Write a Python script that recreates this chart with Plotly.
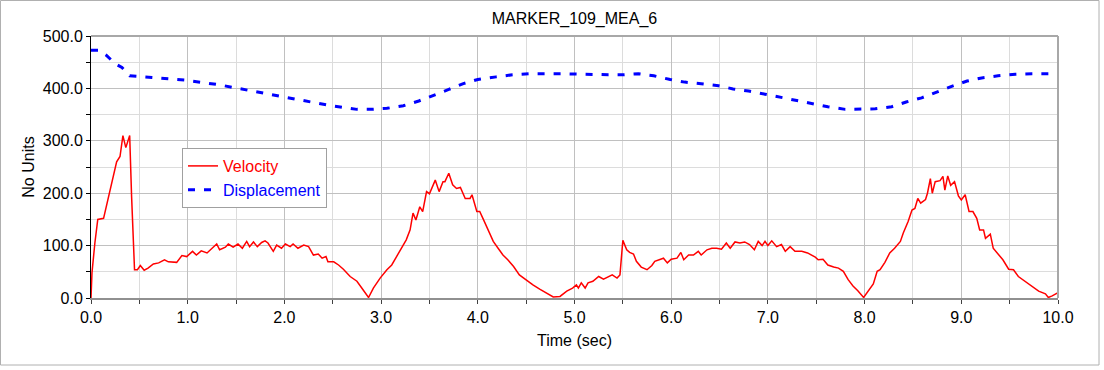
import plotly.graph_objects as go

# ---- data ----
vel_t = [0, 0.01, 0.04, 0.07, 0.13, 0.16, 0.20, 0.23, 0.265, 0.30,
         0.33, 0.36, 0.40, 0.42, 0.45, 0.48, 0.51, 0.55, 0.59, 0.645,
         0.70, 0.76, 0.80, 0.886, 0.94, 0.99, 1.05, 1.09, 1.14, 1.20,
         1.25, 1.30, 1.33, 1.39, 1.42, 1.47, 1.52, 1.565, 1.61, 1.64,
         1.68, 1.72, 1.765, 1.80, 1.83, 1.885, 1.92, 1.97, 2.01, 2.06,
         2.09, 2.14, 2.20, 2.25, 2.30, 2.35, 2.39, 2.43, 2.45, 2.51,
         2.56, 2.61, 2.68, 2.75, 2.80, 2.87, 2.92, 2.99, 3.06, 3.11,
         3.16, 3.21, 3.26, 3.30, 3.33, 3.36, 3.40, 3.43, 3.47, 3.50,
         3.56, 3.60, 3.64, 3.66, 3.70, 3.74, 3.78, 3.82, 3.87, 3.92,
         3.94, 3.99, 4.02, 4.06, 4.11, 4.16, 4.21, 4.26, 4.31, 4.37,
         4.43, 4.50, 4.57, 4.64, 4.71, 4.78, 4.85, 4.92, 4.98, 5.02,
         5.04, 5.07, 5.11, 5.14, 5.19, 5.25, 5.30, 5.35, 5.39, 5.44,
         5.47, 5.50, 5.54, 5.57, 5.61, 5.64, 5.69, 5.75, 5.80, 5.83,
         5.88, 5.92, 5.96, 6.00, 6.06, 6.10, 6.13, 6.18, 6.23, 6.28,
         6.31, 6.37, 6.42, 6.47, 6.52, 6.57, 6.61, 6.66, 6.71, 6.76,
         6.81, 6.86, 6.90, 6.94, 6.97, 7.00, 7.04, 7.09, 7.14, 7.18,
         7.23, 7.28, 7.35, 7.41, 7.49, 7.52, 7.57, 7.62, 7.68, 7.73,
         7.78, 7.83, 7.88, 7.93, 7.99, 8.04, 8.09, 8.13, 8.16, 8.21,
         8.26, 8.31, 8.37, 8.40, 8.45, 8.49, 8.52, 8.55, 8.58, 8.63,
         8.65, 8.68, 8.70, 8.73, 8.78, 8.81, 8.83, 8.86, 8.89, 8.93,
         8.97, 9.00, 9.04, 9.08, 9.12, 9.16, 9.19, 9.23, 9.25, 9.30,
         9.33, 9.38, 9.43, 9.49, 9.54, 9.59, 9.66, 9.73, 9.80, 9.87,
         9.90, 9.94, 10.0]
vel_v = [0, 48, 105, 150, 152, 175, 206, 228, 260, 270,
         310, 287, 310, 193, 54, 54, 62, 53, 57, 65,
         67, 73, 69, 68, 81, 79, 89, 82, 90, 86,
         95, 103, 92, 97, 103, 97, 103, 95, 108, 98,
         107, 98, 106, 109, 105, 89, 101, 95, 103, 98,
         103, 95, 101, 98, 82, 84, 76, 79, 69, 69,
         63, 55, 41, 32, 19, 1, 19, 38, 54, 63,
         79, 95, 111, 130, 162, 149, 174, 165, 203, 199,
         225, 203, 222, 222, 238, 216, 209, 211, 190, 190,
         197, 165, 165, 149, 127, 108, 95, 82, 73, 60,
         44, 34, 25, 17, 10, 2, 3, 13, 19, 25,
         19, 29, 19, 29, 32, 41, 36, 41, 44, 38,
         44, 110, 92, 87, 84, 70, 59, 54, 62, 70,
         74, 76, 67, 74, 76, 87, 73, 82, 82, 89,
         82, 92, 95, 95, 93, 105, 95, 107, 105, 107,
         102, 92, 108, 100, 108, 100, 109, 98, 102, 89,
         98, 89, 89, 86, 78, 73, 74, 63, 59, 57,
         51, 35, 23, 14, 1, 15, 27, 51, 54, 68,
         86, 95, 108, 124, 146, 168, 171, 190, 181, 188,
         200, 228, 200, 222, 224, 232, 206, 233, 215, 222,
         195, 187, 197, 165, 165, 152, 130, 130, 114, 122,
         95, 84, 73, 55, 54, 41, 32, 22, 13, 8,
         1, 4, 10]

disp_t = [0, 0.08, 0.16, 0.25, 0.32, 0.40, 0.63, 0.97, 1.32, 1.59,
          1.87, 2.14, 2.45, 2.75, 2.90, 3.06, 3.23, 3.39, 3.54, 3.70,
          3.85, 4.00, 4.19, 4.36, 4.54, 4.88, 5.35, 5.50, 5.66, 5.82,
          5.99, 6.14, 6.31, 6.49, 6.64, 6.80, 6.97, 7.13, 7.30, 7.45,
          7.62, 7.80, 7.93, 8.11, 8.28, 8.43, 8.59, 8.74, 8.90, 9.06,
          9.21, 9.38, 9.56, 9.73, 9.92, 10.0]
disp_v = [473, 473, 463, 447, 440, 424, 421, 416, 407, 398,
          388, 379, 368, 360, 360, 362, 367, 376, 386, 398,
          409, 417, 422, 426, 428, 428, 426, 426, 428, 424,
          417, 412, 409, 405, 399, 395, 389, 383, 376, 371,
          365, 360, 360, 361, 365, 374, 382, 393, 404, 414,
          420, 424, 427, 428, 428, 428]

x_ticks = [0, 1, 2, 3, 4, 5, 6, 7, 8, 9, 10]
y_ticks = [0, 100, 200, 300, 400, 500]

title_text = "MARKER_109_MEA_6"
x_title = "Time (sec)"
y_title = "No Units"

FONT = "Liberation Sans, Arial, sans-serif"

fig = go.Figure()
fig.add_trace(go.Scatter(
    x=vel_t, y=vel_v, mode="lines",
    name='<span style="color:#ff0000">Velocity</span>',
    line=dict(color="#ff0000", width=1.5)))
fig.add_trace(go.Scatter(
    x=disp_t, y=disp_v, mode="lines",
    name='<span style="color:#0000ff">Displacement</span>',
    line=dict(color="#0000ff", width=3, dash="7px,9px")))

W, H = 1104, 370
L, R, T, B = 91, 46, 36, 72
pw, ph = W - L - R, H - T - B

fig.update_layout(
    width=W, height=H,
    margin=dict(l=L, r=R, t=T, b=B, pad=0, autoexpand=False),
    paper_bgcolor="white", plot_bgcolor="white",
    font=dict(family=FONT, size=16, color="#000000"),
    title=dict(text=title_text, x=0.5, xref="paper", y=1 - 18 / H,
               yref="container", xanchor="center", yanchor="middle",
               pad=dict(t=0, b=0, l=0, r=0),
               font=dict(size=16, family=FONT, color="#000000")),
    showlegend=True,
    legend=dict(x=(182 - L) / pw, y=(298 - 148) / ph, xanchor="left",
                yanchor="top", bgcolor="white", bordercolor="#a0a0a0",
                borderwidth=1, font=dict(size=16, family=FONT),
                itemwidth=30, tracegroupgap=0),
    xaxis=dict(range=[0, 10], tickvals=x_ticks,
               ticktext=[f"{v:.1f}" for v in x_ticks],
               automargin=False,
               showgrid=True, gridcolor="#c0c0c0", gridwidth=1,
               zeroline=False, showline=True, linecolor="#909090",
               linewidth=2, ticks="outside", ticklen=4, tickcolor="#404040",
               minor=dict(dtick=0.5, showgrid=True, gridcolor="#dcdcdc",
                          ticks="outside", ticklen=4, tickcolor="#404040"),
               title=dict(text=x_title, standoff=10,
                          font=dict(size=16, family=FONT)),
               tickfont=dict(size=16, family=FONT)),
    yaxis=dict(range=[0, 500], tickvals=y_ticks,
               ticktext=[f"{v:.1f}" for v in y_ticks],
               automargin=False,
               showgrid=True, gridcolor="#c0c0c0", gridwidth=1,
               zeroline=False, showline=True, linecolor="#000000",
               linewidth=1, ticks="outside", ticklen=4, tickcolor="#000000",
               minor=dict(dtick=50, showgrid=True, gridcolor="#dcdcdc",
                          ticks="outside", ticklen=4, tickcolor="#000000"),
               title=dict(text=y_title, standoff=4,
                          font=dict(size=16, family=FONT)),
               tickfont=dict(size=16, family=FONT)),
)

# plot-area frame (top and right edges) and outer chart border
fig.add_shape(type="line", xref="paper", yref="paper", x0=0, x1=1, y0=1, y1=1,
              line=dict(color="#a8a8a8", width=2), layer="above")
fig.add_shape(type="line", xref="paper", yref="paper", x0=1, x1=1, y0=0, y1=1,
              line=dict(color="#a8a8a8", width=2), layer="above")
fig.add_shape(type="rect", xref="paper", yref="paper",
              x0=(0.5 - L) / pw, x1=(1099 - L) / pw,
              y0=(298 - 365) / ph, y1=(298 - 0.5) / ph,
              line=dict(color="#b0b0b0", width=1), layer="above")

fig.write_html(
    "out.html",
    config={"displayModeBar": False},
    post_script="document.body.style.margin='0';document.body.style.overflow='hidden';",
)
